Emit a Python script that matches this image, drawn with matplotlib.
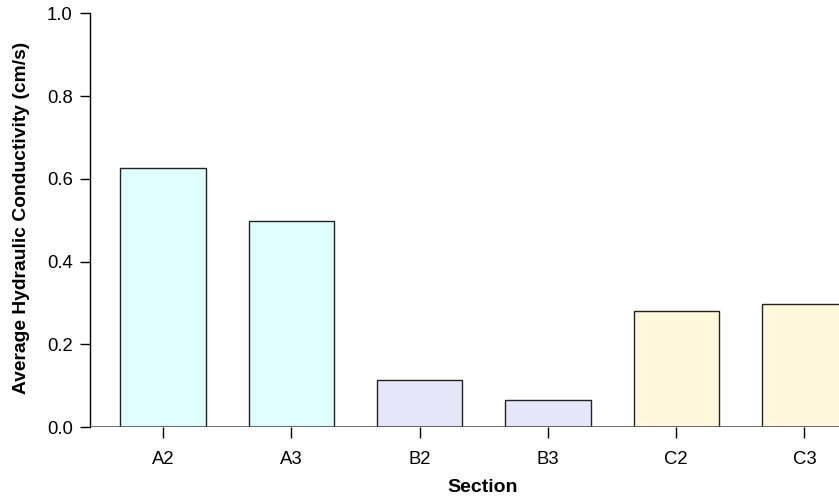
import matplotlib
matplotlib.use('Agg')

import matplotlib.pyplot as plt
import numpy as np

plt.rcParams['font.family'] = ['Liberation Sans', 'DejaVu Sans']

sections = ['A2', 'A3', 'B2', 'B3', 'C2', 'C3']
conductivity = [0.627, 0.498, 0.114, 0.065, 0.281, 0.297]
barColors = ['#E0FFFF', '#E0FFFF', '#E6E6FA', '#E6E6FA', '#FFF8DC', '#FFF8DC']

W, H = 839, 497
fig = plt.figure(figsize=(W / 100, H / 100), dpi=100)

# axes run past the right edge, the last bar is cut off like the original
left, right = 90, 877.5
bottom, top = 427, 13.3
ax = fig.add_axes([left / W, (H - bottom) / H, (right - left) / W, (bottom - top) / H])

x = np.arange(len(sections))
ax.bar(x, conductivity, width=0.665, color=barColors, edgecolor='#222222', linewidth=1.0, zorder=2)
ax.axhline(0, color='#555555', linewidth=1.2, zorder=3)

ax.set_xlim(-0.569, len(sections) - 1 + 0.569)
ax.set_ylim(0, 1.0)

for side in ['top', 'right', 'bottom']:
    ax.spines[side].set_visible(False)
ax.spines['left'].set_linewidth(1.0)

ax.set_yticks([0.0, 0.2, 0.4, 0.6, 0.8, 1.0])
ax.set_yticklabels(['0.0', '0.2', '0.4', '0.6', '0.8', '1.0'])
ax.set_xticks(x)
ax.set_xticklabels(sections)
ax.tick_params(axis='y', length=7.5, width=1.0, pad=5, labelsize=13.3)
ax.tick_params(axis='x', length=8, width=1.0, pad=9, labelsize=13.3)

fig.text(22 / W, 1 - 217.5 / H, 'Average Hydraulic Conductivity (cm/s)', rotation=90,
         ha='center', va='center', fontsize=13.9, fontweight='bold')
fig.text(483 / W, 1 - 487 / H, 'Section', ha='center', va='center',
         fontsize=14, fontweight='bold')

fig.savefig('out.png', dpi=100)
